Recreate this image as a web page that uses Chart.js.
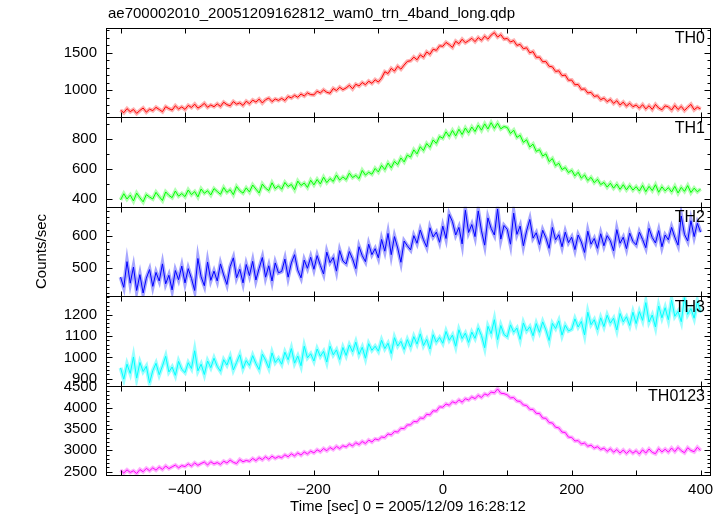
<!DOCTYPE html>
<html>
<head>
<meta charset="utf-8">
<title>ae700002010 WAM light curve</title>
<script src="https://cdn.jsdelivr.net/npm/chart.js@4.4.1/dist/chart.umd.min.js"></script>
<style>
  html, body { margin: 0; padding: 0; background: #fff; }
  #wrap { width: 724px; height: 516px; }
</style>
</head>
<body>
<div id="wrap"><canvas id="lc" width="724" height="516"></canvas></div>
<script>
'use strict';

// Time bins [sec], 0 = 2005/12/09 16:28:12
const timeSec = [
  -500, -495, -490, -485, -480, -475, -470, -465, -460, -455,
  -450, -445, -440, -435, -430, -425, -420, -415, -410, -405,
  -400, -395, -390, -385, -380, -375, -370, -365, -360, -355,
  -350, -345, -340, -335, -330, -325, -320, -315, -310, -305,
  -300, -295, -290, -285, -280, -275, -270, -265, -260, -255,
  -250, -245, -240, -235, -230, -225, -220, -215, -210, -205,
  -200, -195, -190, -185, -180, -175, -170, -165, -160, -155,
  -150, -145, -140, -135, -130, -125, -120, -115, -110, -105,
  -100, -95, -90, -85, -80, -75, -70, -65, -60, -55,
  -50, -45, -40, -35, -30, -25, -20, -15, -10, -5,
  0, 5, 10, 15, 20, 25, 30, 35, 40, 45,
  50, 55, 60, 65, 70, 75, 80, 85, 90, 95,
  100, 105, 110, 115, 120, 125, 130, 135, 140, 145,
  150, 155, 160, 165, 170, 175, 180, 185, 190, 195,
  200, 205, 210, 215, 220, 225, 230, 235, 240, 245,
  250, 255, 260, 265, 270, 275, 280, 285, 290, 295,
  300, 305, 310, 315, 320, 325, 330, 335, 340, 345,
  350, 355, 360, 365, 370, 375, 380, 385, 390, 395,
  400
];

// Counts/sec per band
const th0 = [
  731, 698, 752, 712, 740, 689, 728, 761, 705, 744,
  726, 769, 741, 711, 778, 752, 733, 790, 748, 775,
  742, 795, 768, 812, 759, 786, 822, 770, 801, 778,
  815, 781, 838, 806, 790, 846, 812, 829, 795, 851,
  818, 866, 840, 879, 828, 872, 893, 846, 881, 862,
  889, 861, 914, 896, 930, 904, 948, 921, 962, 940,
  936, 985, 962, 1002, 971, 958, 1021, 994, 1038, 1006,
  1029, 1064, 1018, 1078, 1055, 1101, 1072, 1119, 1090, 1138,
  1108, 1160, 1246, 1221, 1290, 1255, 1318, 1280, 1335, 1384,
  1392, 1441, 1405, 1471, 1439, 1510, 1478, 1546, 1531, 1592,
  1585, 1637, 1608, 1571, 1652, 1620, 1679, 1633, 1661, 1692,
  1648, 1701, 1666, 1720, 1681, 1735, 1768, 1709, 1741, 1682,
  1690, 1643, 1662, 1597, 1611, 1553, 1566, 1498, 1515, 1438,
  1440, 1379, 1381, 1318, 1311, 1249, 1258, 1193, 1201, 1131,
  1134, 1071, 1075, 1009, 1016, 961, 970, 915, 925, 872,
  893, 846, 875, 822, 858, 801, 838, 786, 824, 778,
  801, 758, 805, 749, 791, 742, 808, 760, 737, 789,
  776, 733, 795, 741, 782, 728, 770, 809, 738, 771,
  748
];

const th1 = [
  396, 437, 402, 428, 389, 441, 410, 383, 431, 415,
  402, 446, 418, 392, 449, 426, 411, 455, 421, 438,
  418, 462, 431, 451, 416, 468, 440, 457, 429, 471,
  452, 433, 478, 446, 464, 431, 485, 457, 441, 476,
  449, 495, 468, 442, 501, 474, 458, 510, 471, 489,
  467, 512, 485, 499, 464, 521, 492, 508, 479, 527,
  496, 532, 502, 547, 511, 538, 519, 561, 528, 549,
  531, 574, 545, 559, 538, 592, 561, 580, 567, 605,
  582, 625, 598, 641, 610, 652, 631, 675, 649, 694,
  681, 729, 702, 750, 725, 771, 746, 795, 772, 818,
  806, 849, 818, 858, 822, 866, 831, 874, 842, 881,
  851, 893, 860, 902, 868, 910, 872, 906, 869, 884,
  878, 838, 860, 812, 826, 779, 796, 748, 767, 719,
  730, 688, 702, 651, 671, 624, 640, 598, 611, 578,
  593, 556, 580, 541, 562, 525, 546, 511, 533, 498,
  512, 481, 507, 474, 501, 466, 497, 463, 492, 461,
  484, 455, 492, 451, 486, 458, 497, 447, 483, 456,
  478, 449, 486, 442, 479, 453, 491, 445, 474, 450,
  468
];

const th2 = [
  470, 438, 519, 451, 502, 428, 478, 420, 467, 494,
  441, 485, 458, 512, 449, 476, 430, 491, 462, 505,
  452, 497, 466, 428, 529, 471, 443, 518, 460, 489,
  458, 512, 477, 447, 503, 531, 468, 495, 452, 510,
  475, 520, 461, 498, 532, 470, 506, 458, 515, 484,
  488, 527, 470, 515, 541, 492, 468, 524, 498, 533,
  495, 538, 507, 480, 549, 516, 532, 489, 554, 521,
  512, 551, 528, 497, 566, 538, 519, 574, 541, 560,
  531, 589, 552, 608, 541, 598, 562, 517, 584, 569,
  556, 601, 577, 619, 588, 565, 626, 597, 612, 580,
  631, 592, 668, 645, 603, 627, 575, 681, 611, 636,
  598, 679, 616, 571, 657, 624, 603, 685, 590, 633,
  621, 574, 672, 605, 631, 569, 616, 652, 593, 610,
  573, 618, 594, 561, 627, 588, 604, 566, 612, 579,
  596, 557, 603, 581, 548, 615, 574, 592, 561, 607,
  569, 601, 585, 553, 620, 577, 596, 560, 609, 583,
  572, 612, 589, 563, 624, 595, 578, 617, 566, 603,
  588, 627, 596, 571, 663, 605, 584, 648, 598, 640,
  612
];

const th3 = [
  951, 898, 968, 925, 1002, 903, 976, 934, 958, 881,
  938, 972, 919, 960, 1005, 932, 955, 916, 981, 944,
  929, 975, 948, 1031, 937, 968, 920, 983, 952, 996,
  958, 935, 989, 964, 1003, 941, 976, 1012, 948, 985,
  962, 1008, 971, 943, 1015, 987, 950, 1021, 976, 995,
  968, 1024, 989, 1041, 973, 1006, 961, 1052, 998, 1017,
  983, 1039, 1005, 1028, 978, 1052, 1012, 1035, 990, 1046,
  1009, 1058, 1026, 1071, 1014, 1047, 996, 1064, 1033, 1052,
  1029, 1080, 1041, 1066, 1018, 1092, 1053, 1075, 1037, 1083,
  1048, 1097, 1062, 1110, 1055, 1084, 1039, 1106, 1071, 1093,
  1066, 1121, 1080, 1104, 1052, 1129, 1088, 1113, 1070, 1118,
  1089, 1138, 1102, 1045, 1145, 1111, 1176, 1083, 1149, 1107,
  1096, 1152, 1118, 1137, 1084, 1161, 1123, 1143, 1101, 1158,
  1117, 1166, 1128, 1079, 1159, 1135, 1171, 1104, 1150, 1124,
  1131, 1180, 1142, 1168, 1105, 1211, 1153, 1176, 1129, 1185,
  1144, 1197, 1160, 1183, 1128, 1205, 1166, 1190, 1149, 1211,
  1158, 1214, 1173, 1256, 1165, 1198, 1142, 1240, 1185, 1232,
  1176, 1268, 1192, 1215, 1167, 1279, 1201, 1228, 1183, 1262,
  1210
];

const th0123 = [
  2532, 2468, 2541, 2480, 2519, 2455, 2548, 2497, 2575, 2520,
  2588, 2534, 2606, 2551, 2632, 2570, 2612, 2653, 2589, 2641,
  2618, 2681, 2630, 2703, 2647, 2690, 2725, 2655, 2731, 2680,
  2712, 2668, 2745, 2702, 2770, 2718, 2689, 2783, 2731, 2762,
  2741, 2809, 2758, 2826, 2779, 2848, 2790, 2862, 2811, 2853,
  2826, 2893, 2848, 2917, 2869, 2938, 2887, 2961, 2915, 2980,
  2940, 3012, 2968, 3041, 2990, 3066, 3018, 3092, 3041, 3108,
  3078, 3146, 3102, 3178, 3135, 3207, 3160, 3241, 3196, 3268,
  3245, 3312, 3301, 3385, 3362, 3441, 3429, 3517, 3508, 3596,
  3598, 3679, 3668, 3760, 3749, 3846, 3832, 3929, 3921, 4022,
  4012, 4089, 4058, 4141, 4109, 4186, 4130, 4212, 4183, 4254,
  4215, 4290, 4241, 4325, 4292, 4368, 4349, 4441, 4340, 4332,
  4301, 4232, 4238, 4158, 4149, 4065, 4052, 3962, 3961, 3868,
  3866, 3758, 3752, 3652, 3641, 3542, 3527, 3428, 3418, 3309,
  3304, 3219, 3228, 3149, 3170, 3096, 3121, 3052, 3085, 3019,
  3052, 2976, 3037, 2956, 3018, 2937, 3006, 2925, 2999, 2933,
  2990, 2912, 3012, 2935, 3031, 2951, 2921, 3040, 2963, 3025,
  2958, 3053, 2971, 3067, 2990, 2943, 3060, 2996, 2967, 3071,
  2995
];

const bandNames = ['TH0', 'TH1', 'TH2', 'TH3', 'TH0123'];
const bandSeries = [th0, th1, th2, th3, th0123];
const bandColors = ['#ff0000', '#00ff00', '#0000ff', '#00ffff', '#ff00ff'];
const bandHalo = ['rgba(255,0,0,0.3)', 'rgba(0,255,0,0.3)', 'rgba(0,0,255,0.35)', 'rgba(0,255,255,0.4)', 'rgba(255,0,255,0.3)'];

// y ranges, labelled ticks and minor tick step of each panel
const yRanges = [[635, 1830], [350, 945], [410, 692], [868, 1286], [2420, 4520]];
const yTickVals = [
  [1000, 1500],
  [400, 600, 800],
  [500, 600],
  [900, 1000, 1100, 1200],
  [2500, 3000, 3500, 4000, 4500]
];
const yMinor = [100, 100, 20, 20, 100];

const xRange = [-522.6, 414.6];
const xTickVals = [-400, -200, 0, 200, 400];
const xMinor = [-500, -400, -300, -200, -100, 0, 100, 200, 300, 400];

const FONT = '"Liberation Sans", Arial, Helvetica, sans-serif';
const minus = v => String(v).replace('-', '\u2212');
const axisId = i => 'y' + bandNames[i];

// datasets: a light wide line (error fringe) under a thin one
const datasets = [];
bandSeries.forEach((s, i) => {
  datasets.push({
    data: s, yAxisID: axisId(i), xAxisID: 'x',
    borderColor: bandColors[i], borderWidth: 1,
    pointRadius: 0, tension: 0, order: 0
  });
  datasets.push({
    data: s, yAxisID: axisId(i), xAxisID: 'x',
    borderColor: bandHalo[i], borderWidth: 4,
    pointRadius: 0, tension: 0, order: 1
  });
});

const scales = {
  x: {
    type: 'linear', min: xRange[0], max: xRange[1],
    grid: { display: false, drawTicks: false },
    border: { display: false },
    afterBuildTicks: s => { s.ticks = xTickVals.map(v => ({ value: v })); },
    ticks: {
      padding: 6, autoSkip: false,
      color: '#000', font: { family: FONT, size: 15 },
      maxRotation: 0, callback: v => minus(v)
    },
    title: {
      display: true, text: 'Time [sec] 0 = 2005/12/09 16:28:12',
      color: '#000', font: { family: FONT, size: 15 }, padding: { top: 0, bottom: 0 }
    },
    afterFit: s => { s.height = 41; }
  }
};
// last defined goes on top of the stack, so add TH0123 first
for (let i = bandNames.length - 1; i >= 0; i--) {
  scales[axisId(i)] = {
    type: 'linear', position: 'left', stack: 'bands', stackWeight: 1,
    min: yRanges[i][0], max: yRanges[i][1],
    grid: { display: false, drawTicks: false },
    border: { display: false },
    afterBuildTicks: s => { s.ticks = yTickVals[i].map(v => ({ value: v })); },
    ticks: {
      padding: 9, autoSkip: false,
      color: '#000', font: { family: FONT, size: 15 },
      callback: v => String(v)
    },
    afterFit: s => { s.width = 100; }
  };
}

// frame, inward tick marks and panel texts
const qdpFrame = {
  id: 'qdpFrame',
  afterDraw(chart) {
    const c = chart.ctx;
    const area = chart.chartArea;
    const xs = chart.scales.x;
    const L = Math.round(area.left) + 0.5;
    const R = Math.round(area.right) + 0.5;
    c.save();
    c.strokeStyle = '#000';
    c.lineWidth = 1;
    c.fillStyle = '#000';

    bandNames.forEach((name, i) => {
      const ys = chart.scales[axisId(i)];
      const T = Math.round(ys.top) + 0.5;
      const B = Math.round(ys.bottom) + 0.5;
      c.strokeRect(L, T, R - L, B - T);

      c.beginPath();
      xMinor.forEach(t => {
        const px = Math.round(xs.getPixelForValue(t)) + 0.5;
        c.moveTo(px, T); c.lineTo(px, T + 5);
        c.moveTo(px, B); c.lineTo(px, B - 5);
      });
      const [lo, hi] = yRanges[i];
      for (let v = Math.ceil(lo / yMinor[i]) * yMinor[i]; v <= hi; v += yMinor[i]) {
        const py = Math.round(ys.getPixelForValue(v)) + 0.5;
        const len = yTickVals[i].includes(v) ? 6 : 3;
        c.moveTo(L, py); c.lineTo(L + len, py);
        c.moveTo(R, py); c.lineTo(R - len, py);
      }
      c.stroke();

      c.font = '16px ' + FONT;
      c.textAlign = 'right';
      c.textBaseline = 'top';
      c.fillText(name, area.right - 5, ys.top + 3);
    });

    c.font = '15px ' + FONT;
    c.textAlign = 'left';
    c.textBaseline = 'middle';
    c.fillText('ae700002010_20051209162812_wam0_trn_4band_long.qdp', area.left + 2, 14);

    c.translate(42, (area.top + area.bottom) / 2);
    c.rotate(-Math.PI / 2);
    c.textAlign = 'center';
    c.fillText('Counts/sec', 0, 0);
    c.restore();
  }
};

new Chart(document.getElementById('lc').getContext('2d'), {
  type: 'line',
  data: { labels: timeSec, datasets },
  options: {
    responsive: false,
    animation: false,
    events: [],
    layout: { padding: { left: 6, right: 14, top: 28, bottom: 0 } },
    plugins: { legend: { display: false }, tooltip: { enabled: false }, title: { display: false } },
    scales
  },
  plugins: [qdpFrame]
});
</script>
</body>
</html>
